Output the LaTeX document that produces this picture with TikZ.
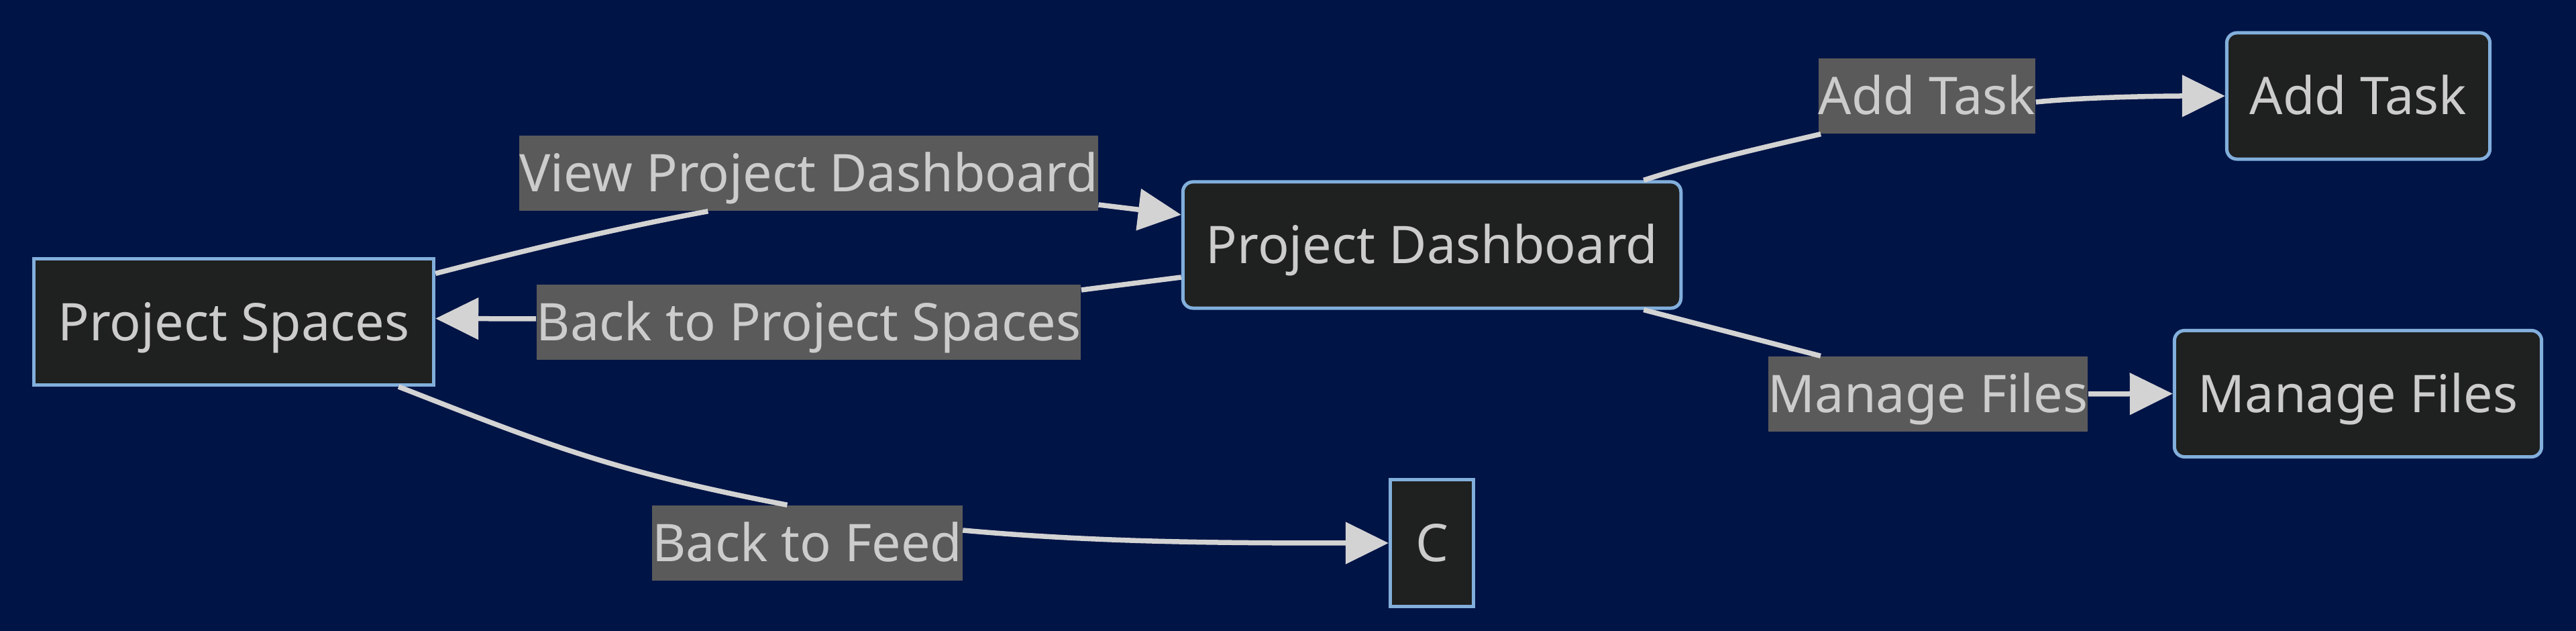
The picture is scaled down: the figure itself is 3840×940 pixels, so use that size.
\documentclass[tikz,border=0pt]{standalone}
\usepackage{fontspec}
\setmainfont{Noto Sans}
\usetikzlibrary{arrows.meta}
\definecolor{bgnavy}{RGB}{0,20,70}
\definecolor{nodefill}{RGB}{31,32,32}
\definecolor{nodeline}{RGB}{130,175,220}
\definecolor{labelfill}{RGB}{90,90,90}
\definecolor{textgray}{RGB}{204,204,204}
\definecolor{edgegray}{RGB}{211,211,211}
\tikzset{
  flownode/.style={draw=nodeline, line width=0.05cm, fill=nodefill, text=textgray, inner sep=0pt, minimum height=1.88cm, text height=0.555cm, text depth=0pt, font=\fontsize{22}{27}\selectfont},
  roundnode/.style={flownode, rounded corners=0.15cm},
  edgelabel/.style={fill=labelfill, text=textgray, inner sep=0pt, minimum height=1.12cm, text height=0.555cm, text depth=0pt, font=\fontsize{22}{27}\selectfont},
  link/.style={draw=edgegray, line width=0.075cm},
  linktip/.style={link, -{Triangle[length=0.64cm, width=0.61cm]}}
}

\begin{document}
\begin{tikzpicture}[x=0.01cm, y=0.01cm]
\useasboundingbox (0,0) rectangle (3840,940);
\fill[bgnavy] (0,0) rectangle (3840,940);
\node[flownode, minimum width=5.96cm] (ps) at (348.5,460.5) {Project Spaces};
\node[roundnode, minimum width=7.42cm] (pd) at (2134.5,575) {Project Dashboard};
\node[roundnode, minimum width=3.92cm] (at) at (3515.5,797) {Add Task};
\node[roundnode, minimum width=5.47cm] (mf) at (3515,353.5) {Manage Files};
\node[flownode, minimum width=1.24cm] (c) at (2134.5,131) {C};
\node[edgelabel, minimum width=8.61cm] (lv) at (1205.5,682) {View Project Dashboard};
\node[edgelabel, minimum width=8.11cm] (lb) at (1205.5,460) {Back to Project Spaces};
\node[edgelabel, minimum width=3.21cm] (la) at (2872.5,797) {Add Task};
\node[edgelabel, minimum width=4.74cm] (lm) at (2874,353) {Manage Files};
\node[edgelabel, minimum width=4.57cm] (lf) at (1203.5,131) {Back to Feed};
\draw[link] ([yshift=0.72cm]ps.east) .. controls +(135,35) and +(-135,-25) .. ([xshift=-1.5cm]lv.south);
\draw[linktip] ([yshift=-0.47cm]lv.east) -- ([yshift=0.45cm]pd.west);
\draw[link] ([yshift=-0.48cm]pd.west) -- ([yshift=0.48cm]lb.east);
\draw[linktip] ([yshift=0.05cm]lb.west) -- ([yshift=0.05cm]ps.east);
\draw[link] ([xshift=-0.55cm]ps.south east) .. controls +(220,-86) and +(-260,50) .. ([xshift=-0.3cm]lf.north);
\draw[linktip] ([yshift=0.19cm]lf.east) .. controls +(200,-18) and +(-250,0) .. (c.west);
\draw[link] ([xshift=-0.58cm]pd.north east) .. controls +(90,29) and +(-90,-21) .. ([xshift=0.04cm]la.south west);
\draw[linktip] ([yshift=-0.09cm]la.east) .. controls +(80,8) and +(-80,0) .. (at.west);
\draw[link] ([xshift=-0.58cm]pd.south east) -- ([xshift=-1.6cm]lm.north);
\draw[linktip] (lm.east) -- (mf.west);
\end{tikzpicture}
\end{document}
